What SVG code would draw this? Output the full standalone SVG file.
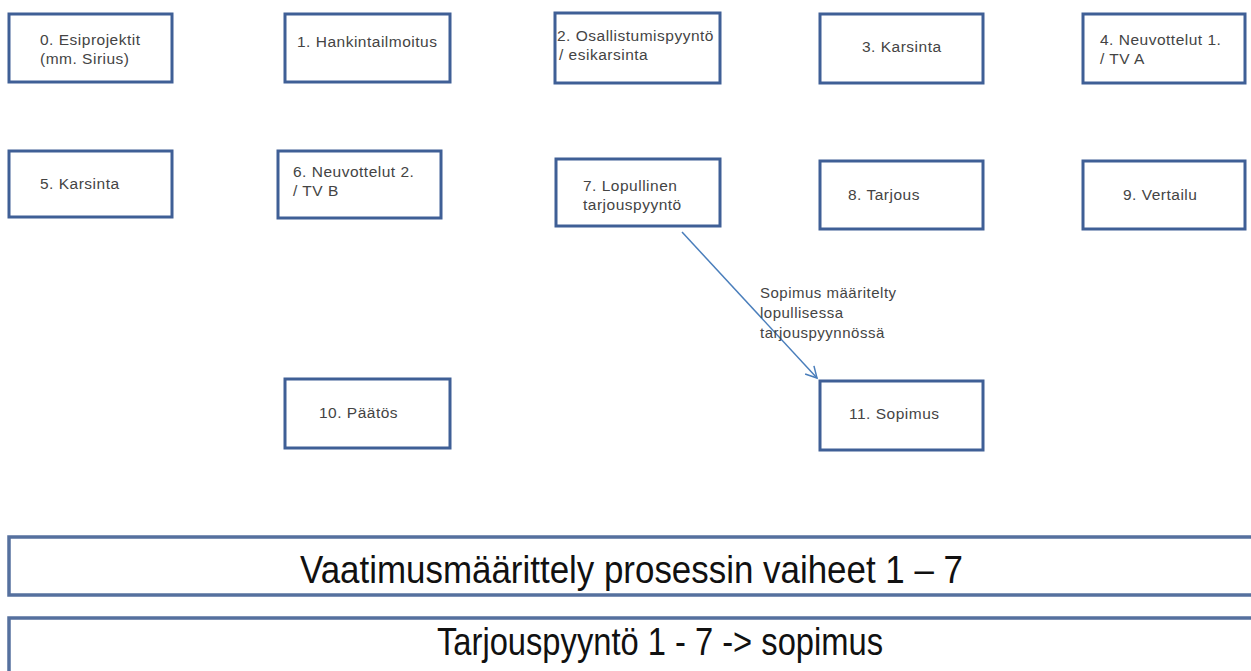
<svg xmlns="http://www.w3.org/2000/svg" width="1251" height="671" viewBox="0 0 1251 671">
<style>
.box{fill:#fff;stroke:#3f5f96;stroke-width:3}
.bar{fill:#fff;stroke:#55709e;stroke-width:3.5}
.t{font-family:"Liberation Sans",Arial,sans-serif;font-size:15.5px;letter-spacing:0.5px;fill:#444}
.big{font-family:"Liberation Sans",Arial,sans-serif;font-size:38px;fill:#111}
.lbl{font-family:"Liberation Sans",Arial,sans-serif;font-size:15px;letter-spacing:0.5px;fill:#444}
.conn{stroke:#4a7ebb;stroke-width:1.5;fill:none}
</style>
<defs>
<marker id="arr" markerWidth="14" markerHeight="14" refX="12" refY="7" orient="auto" markerUnits="userSpaceOnUse">
<path d="M1,1 L12,7 L1,13" fill="none" stroke="#4a7ebb" stroke-width="1.5"/>
</marker>
</defs>
<rect width="1251" height="671" fill="#fff"/>
<g id="n0"><rect class="box" x="9" y="14" width="163" height="68"/><text class="t" x="40" y="45">0. Esiprojektit</text><text class="t" x="40" y="64">(mm. Sirius)</text></g>
<g id="n1"><rect class="box" x="285" y="14" width="165" height="68"/><text class="t" x="297" y="47">1. Hankintailmoitus</text></g>
<g id="n2"><rect class="box" x="555" y="13" width="165" height="70"/><text class="t" x="557" y="41">2. Osallistumispyyntö</text><text class="t" x="559" y="60">/ esikarsinta</text></g>
<g id="n3"><rect class="box" x="820" y="14" width="163" height="69"/><text class="t" x="862" y="52">3. Karsinta</text></g>
<g id="n4"><rect class="box" x="1083" y="14" width="162" height="69"/><text class="t" x="1100" y="45">4. Neuvottelut 1.</text><text class="t" x="1100" y="64">/ TV A</text></g>
<g id="n5"><rect class="box" x="9" y="151" width="163" height="66"/><text class="t" x="40" y="189">5. Karsinta</text></g>
<g id="n6"><rect class="box" x="278" y="151" width="163" height="67"/><text class="t" x="293" y="177">6. Neuvottelut 2.</text><text class="t" x="293" y="196">/ TV B</text></g>
<g id="n7"><rect class="box" x="556" y="159" width="164" height="67"/><text class="t" x="583" y="191">7. Lopullinen</text><text class="t" x="583" y="210">tarjouspyyntö</text></g>
<g id="n8"><rect class="box" x="820" y="161" width="163" height="68"/><text class="t" x="848" y="200">8. Tarjous</text></g>
<g id="n9"><rect class="box" x="1083" y="161" width="162" height="68"/><text class="t" x="1123" y="200">9. Vertailu</text></g>
<g id="n10"><rect class="box" x="285" y="379" width="165" height="69"/><text class="t" x="319" y="418">10. Päätös</text></g>
<g id="n11"><rect class="box" x="820" y="381" width="163" height="69"/><text class="t" x="849" y="419">11. Sopimus</text></g>
<g id="bar1"><rect class="bar" x="9" y="537" width="1262" height="58"/><text class="big" x="300" y="583" textLength="663" lengthAdjust="spacingAndGlyphs">Vaatimusmäärittely prosessin vaiheet 1 – 7</text></g>
<g id="bar2"><rect class="bar" x="9" y="618" width="1262" height="70"/><text class="big" x="437" y="655" textLength="446" lengthAdjust="spacingAndGlyphs">Tarjouspyyntö 1 - 7 -&gt; sopimus</text></g>
<g id="connectors">
<line class="conn" x1="682" y1="232" x2="817" y2="378" marker-end="url(#arr)"/>
<text class="lbl" x="760" y="298">Sopimus määritelty</text>
<text class="lbl" x="760" y="318">lopullisessa</text>
<text class="lbl" x="760" y="338">tarjouspyynnössä</text>
</g>
</svg>
